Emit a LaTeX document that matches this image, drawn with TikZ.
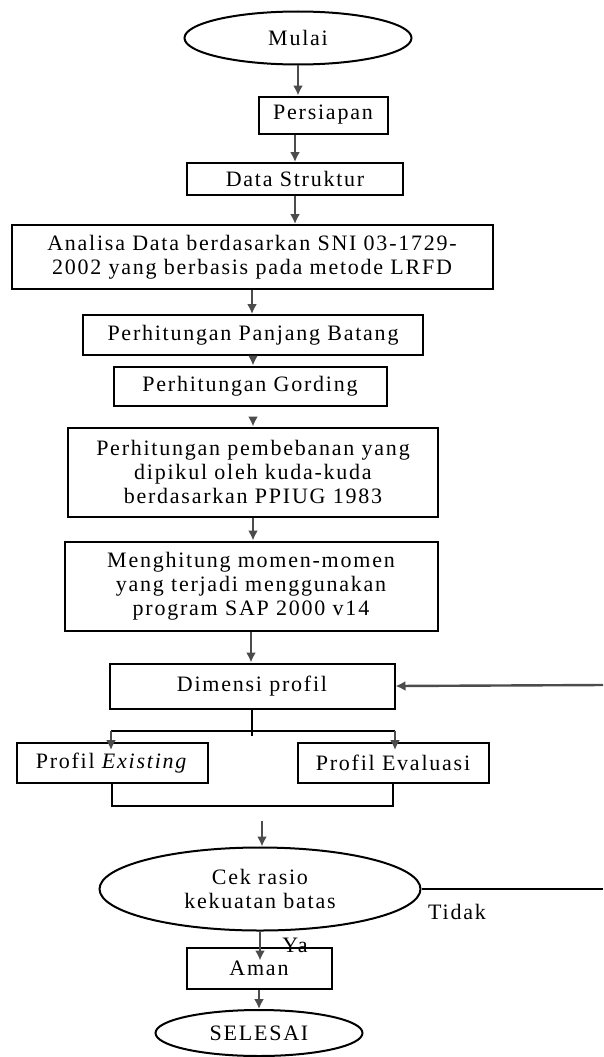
\documentclass[tikz,border=0pt]{standalone}
\usepackage{fontspec}
\setmainfont{Liberation Serif}[LetterSpace=8]
\usetikzlibrary{shapes.geometric, arrows, arrows.meta}
\usetikzlibrary{arrows,shapes,positioning}

\tikzset{
  kotak/.style={draw, line width=2pt, inner sep=0pt, align=center,
    font=\fontsize{22}{24}\selectfont},
  elips/.style={ellipse, draw, line width=2pt, inner sep=0pt, align=center,
    font=\fontsize{22}{24}\selectfont},
  panah/.style={-{Latex[length=10pt,width=10pt]}, line width=2.4pt, draw=black!70},
  garis/.style={line width=2pt},
  label/.style={font=\fontsize{22}{24}\selectfont},
}

\begin{document}
\begin{tikzpicture}[x=1pt,y=-1pt]
\useasboundingbox (0,0) rectangle (603,1057);

\node[elips, minimum width=227pt, minimum height=53pt] (mulai) at (298,38) {Mulai};
\node[kotak, minimum width=129pt, minimum height=37pt] (persiapan) at (323,115) {Persiapan};
\node[kotak, minimum width=216pt, minimum height=32pt] (data) at (295,179) {Data Struktur};
\node[kotak, minimum width=481pt, minimum height=64pt] (analisa) at (252,257)
  {Analisa Data berdasarkan SNI 03-1729-\\2002 yang berbasis pada metode LRFD};
\node[kotak, minimum width=340pt, minimum height=40pt] (panjang) at (253,335) {Perhitungan Panjang Batang};
\node[kotak, minimum width=273pt, minimum height=39pt] (gording) at (250,386) {Perhitungan Gording};
\node[kotak, minimum width=370pt, minimum height=89pt] (beban) at (253,472)
  {Perhitungan pembebanan yang\\dipikul oleh kuda-kuda\\berdasarkan PPIUG 1983};
\node[kotak, minimum width=373pt, minimum height=89pt] (momen) at (251,586)
  {Menghitung momen-momen\\yang terjadi menggunakan\\program SAP 2000 v14};
\node[kotak, minimum width=285pt, minimum height=45pt] (dimensi) at (252,686) {Dimensi profil};
\node[kotak, minimum width=191pt, minimum height=40pt] (existing) at (112,763) {Profil \textit{Existing}};
\node[kotak, minimum width=191pt, minimum height=40pt] (evaluasi) at (393,763) {Profil Evaluasi};
\node[elips, minimum width=321pt, minimum height=83pt] (cek) at (260,889) {Cek rasio\\kekuatan batas};
\node[kotak, minimum width=145pt, minimum height=41pt] (aman) at (259,968) {Aman};
\node[elips, minimum width=207pt, minimum height=46pt] (selesai) at (259,1033) {SELESAI};

\coordinate (cabang) at (252,731);
\coordinate (cabangkiri) at (111,731);
\coordinate (cabangkanan) at (395,731);
\coordinate (masukcek) at (262,821);
\coordinate (tepitidak) at (603,889);
\coordinate (tepibalik) at (603,685);

\draw[panah] (mulai.south) -- (mulai.south |- persiapan.north);
\draw[panah] (persiapan.south -| data.north) -- (data.north);
\draw[panah] (data.south) -- (data.south |- analisa.north);
\draw[panah] (analisa.south) -- (analisa.south |- panjang.north);
\draw[panah] (panjang.south) -- (panjang.south |- gording.north);
\draw[panah, shorten <=10pt] (gording.south -| panjang.south) -- (panjang.south |- beban.north);
\draw[panah] (beban.south) -- (beban.south |- momen.north);
\draw[panah] (momen.south) -- (momen.south |- dimensi.north);

% percabangan profil
\draw[garis] (dimensi.south) -- ([yshift=-5pt]cabang);
\draw[garis] (cabangkiri) -- (cabangkanan);
\draw[panah, shorten >=-8pt] (cabangkiri) -- (cabangkiri |- existing.north);
\draw[panah, shorten >=-8pt] (cabangkanan) -- (cabangkanan |- evaluasi.north);
\draw[garis] (existing.south) -- ++(0,22) -| (evaluasi.south);

\draw[panah] (masukcek) -- (masukcek |- cek.north);
\draw[garis] (cek.east) -- (tepitidak);
\draw[panah] (tepibalik) -- (dimensi.east);
\node[label] (tidak) at (457,912) {Tidak};

\draw[panah, shorten >=-14pt] (cek.south) -- (cek.south |- aman.north);
\node[label] (ya) at (295,945) {Ya};
\draw[panah] (aman.south) -- (aman.south |- selesai.north);

\end{tikzpicture}
\end{document}
